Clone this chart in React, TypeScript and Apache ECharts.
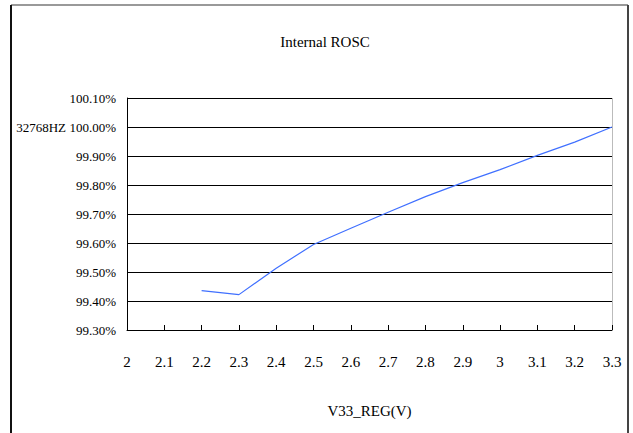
import React, { useEffect, useRef } from "react";
import * as echarts from "echarts";

const categories = ["2", "2.1", "2.2", "2.3", "2.4", "2.5", "2.6", "2.7", "2.8", "2.9", "3", "3.1", "3.2", "3.3"];
const freqPercent: (number | null)[] = [null, null, 99.436, 99.422, 99.513, 99.595, 99.651, 99.706, 99.760, 99.808, 99.853, 99.902, 99.948, 100.0];
const chartTitle = "Internal ROSC";
const xAxisName = "V33_REG(V)";
const refLabel = "32768HZ";

const FONT = "Liberation Serif, DejaVu Serif, serif";

export default function App() {
  const ref = useRef<HTMLDivElement>(null);
  useEffect(() => {
    if (!ref.current) return;
    const chart = echarts.init(ref.current, null, { renderer: "svg" });
    chart.setOption({
      animation: false,
      backgroundColor: "#ffffff",
      title: {
        text: chartTitle,
        left: 320,
        top: 29,
        textAlign: "center",
        textStyle: { fontFamily: FONT, fontSize: 15, fontWeight: "normal", color: "#000" },
      },
      graphic: [
        { type: "line", shape: { x1: 11, y1: 5, x2: 628, y2: 5 }, style: { stroke: "#999", lineWidth: 2 } },
        { type: "line", shape: { x1: 11, y1: 5, x2: 11, y2: 433 }, style: { stroke: "#111", lineWidth: 2 } },
        { type: "line", shape: { x1: 628, y1: 5, x2: 628, y2: 433 }, style: { stroke: "#444", lineWidth: 2 } },
        { type: "line", shape: { x1: 612.5, y1: 98, x2: 612.5, y2: 330 }, style: { stroke: "#bbb", lineWidth: 1 } },
        {
          type: "text",
          x: 66,
          y: 127,
          style: {
            text: refLabel,
            fontFamily: FONT,
            fontSize: 13,
            fill: "#000",
            align: "right",
            verticalAlign: "middle",
          },
        },
      ],
      grid: { left: 127, right: 21, top: 98, bottom: 103, containLabel: false },
      xAxis: {
        type: "category",
        data: categories,
        boundaryGap: false,
        name: xAxisName,
        nameLocation: "middle",
        nameGap: 73,
        nameTextStyle: { fontFamily: FONT, fontSize: 15, color: "#000" },
        axisLine: { lineStyle: { color: "#000", width: 1 } },
        axisTick: { inside: true, length: 5, lineStyle: { color: "#000" } },
        axisLabel: { fontFamily: FONT, fontSize: 15, color: "#000", margin: 24, interval: 0 },
        splitLine: { show: false },
      },
      yAxis: {
        type: "value",
        min: 99.3,
        max: 100.1,
        interval: 0.1,
        axisLine: { show: true, lineStyle: { color: "#000", width: 1 } },
        axisTick: { show: false },
        axisLabel: {
          fontFamily: FONT,
          fontSize: 13,
          color: "#000",
          margin: 11,
          formatter: (v: number) => v.toFixed(2) + "%",
        },
        splitLine: { show: true, lineStyle: { color: "#000", width: 1 } },
      },
      series: [
        {
          type: "line",
          data: freqPercent,
          showSymbol: false,
          connectNulls: false,
          lineStyle: { color: "#4070ff", width: 1.2 },
        },
      ],
    });
    return () => chart.dispose();
  }, []);
  return (
    <div
      ref={ref}
      style={{ position: "fixed", left: 0, top: 0, width: 633, height: 433 }}
    />
  );
}
